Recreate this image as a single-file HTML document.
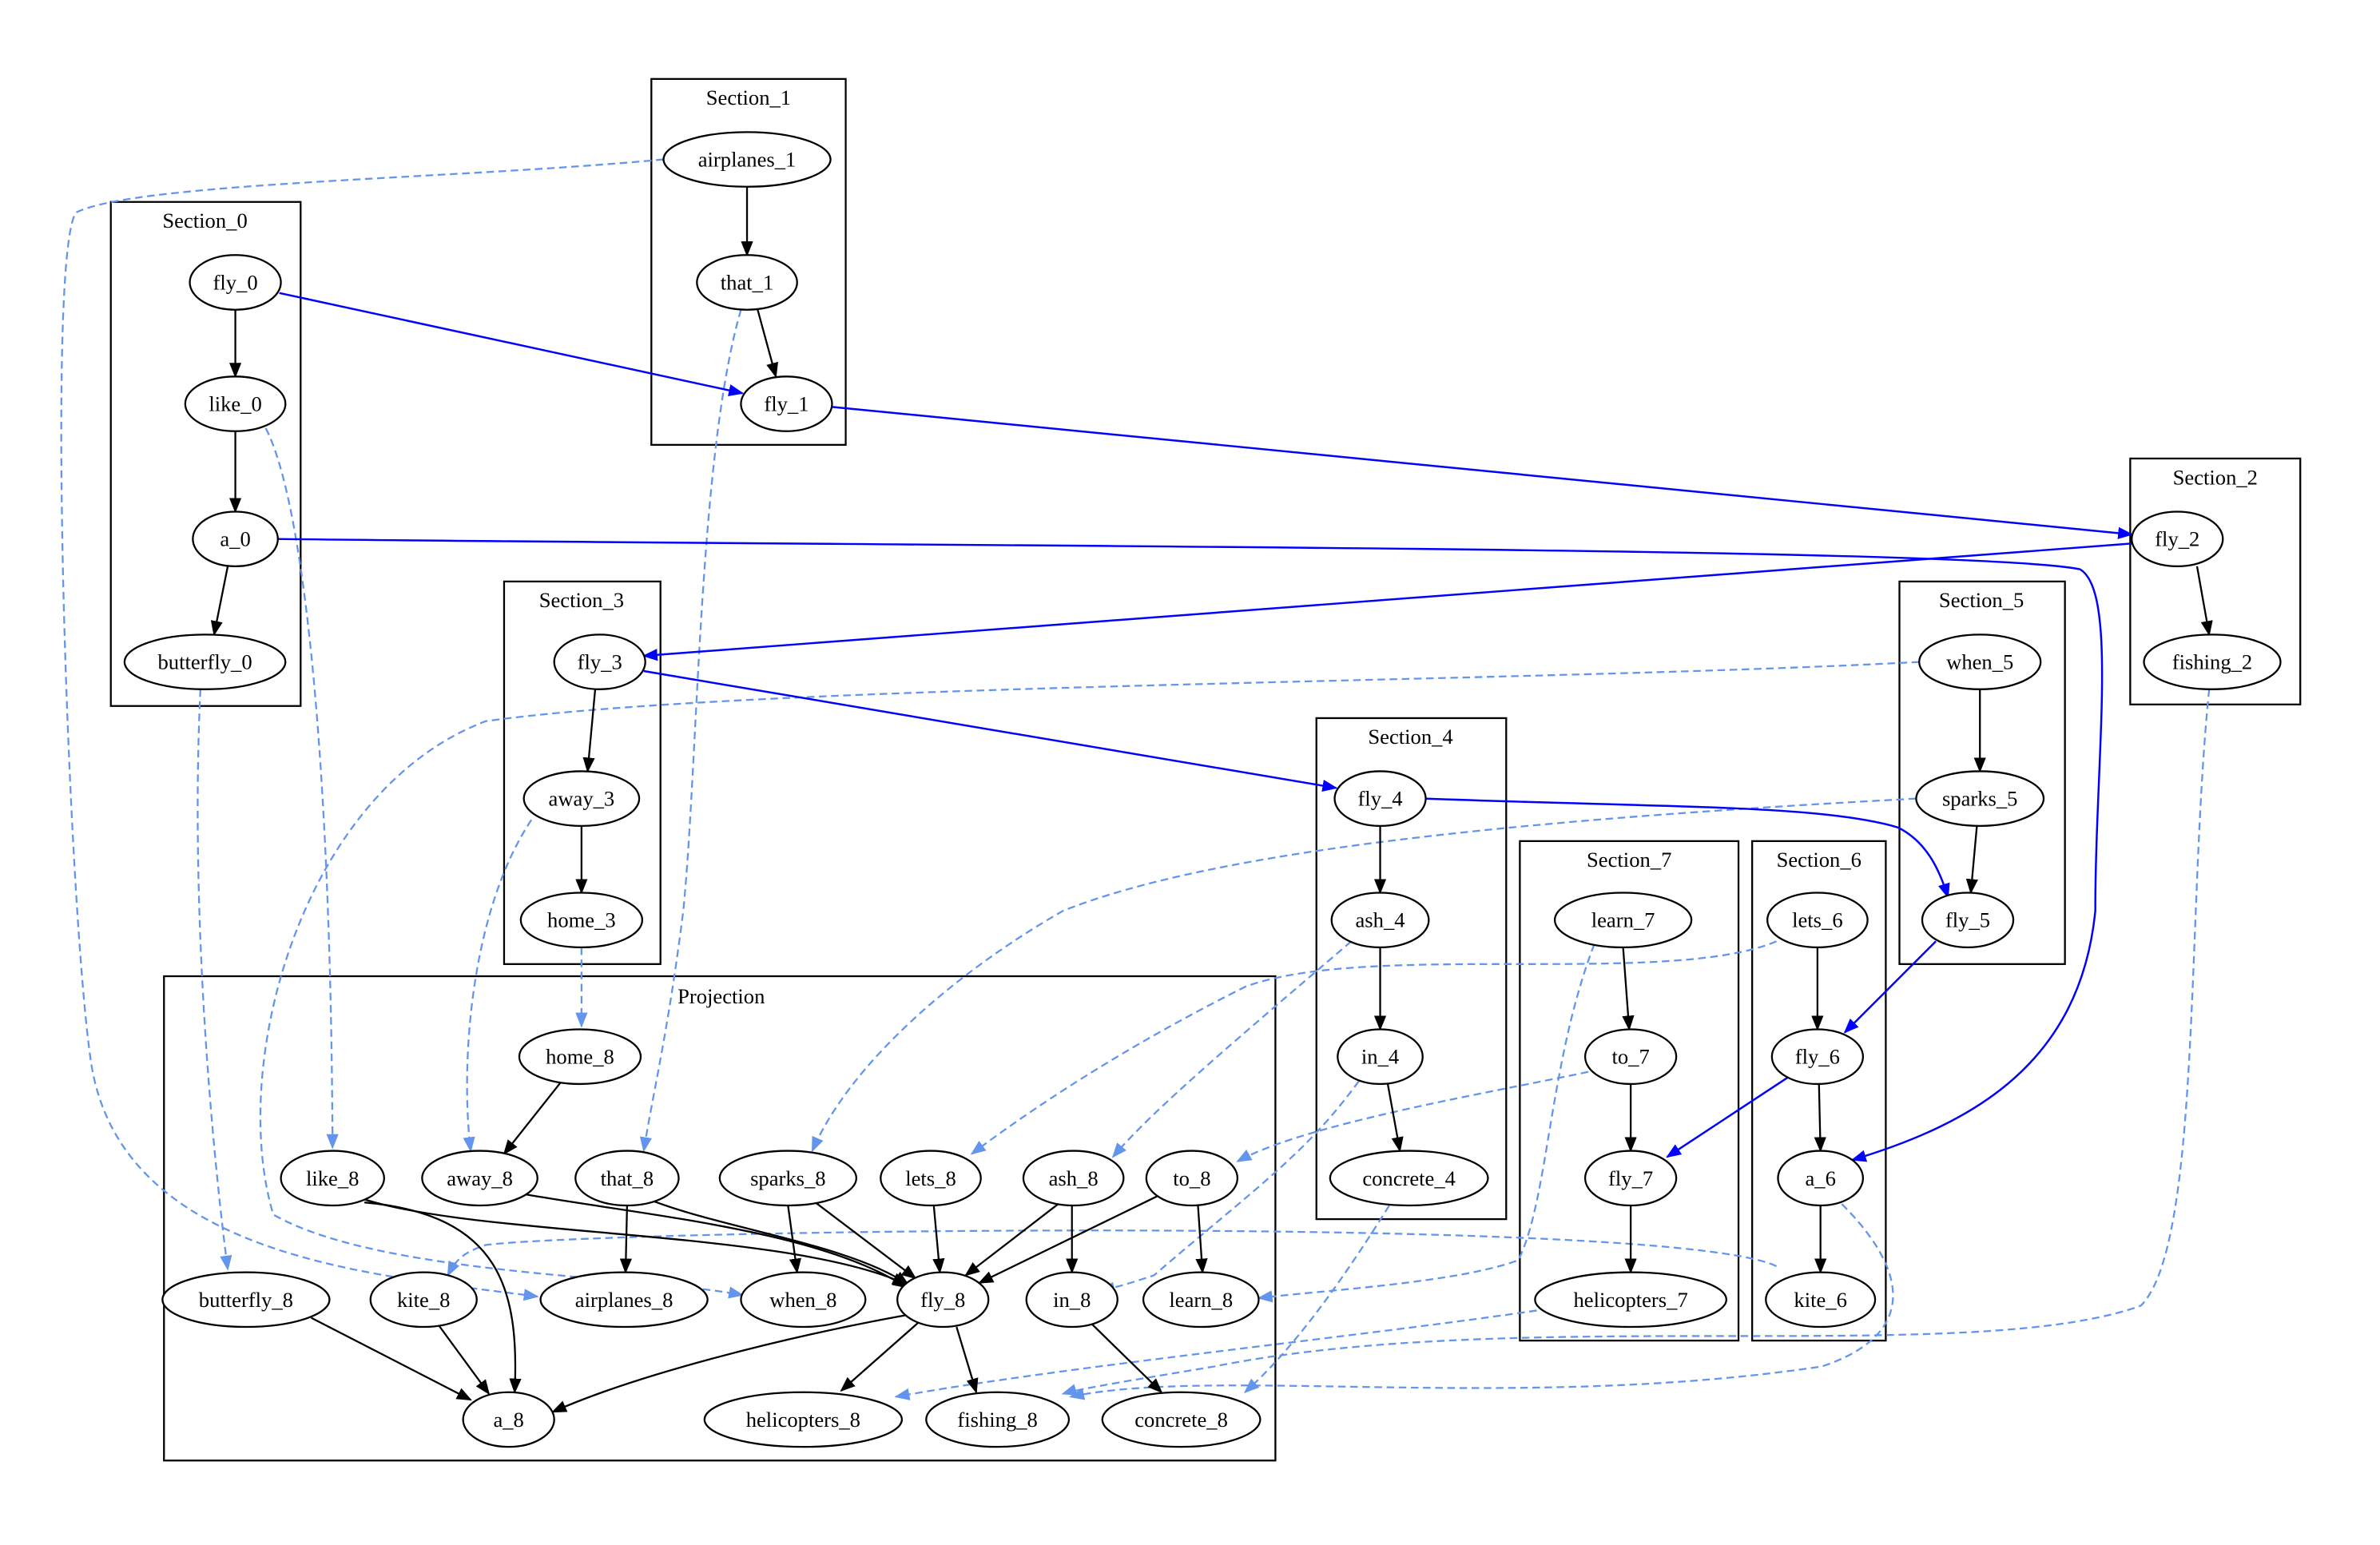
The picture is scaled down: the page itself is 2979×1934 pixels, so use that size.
<!DOCTYPE html>
<html><head><meta charset="utf-8"><style>html,body{margin:0;padding:0;background:#fff}</style></head><body>
<svg width="2979" height="1929" viewBox="0 0 1567.5 1015" xmlns="http://www.w3.org/2000/svg" font-family="Liberation Serif, serif" font-size="14">
<defs>
<marker id="k" markerWidth="10" markerHeight="8" refX="9" refY="4" orient="auto" markerUnits="userSpaceOnUse"><path d="M0,0L10,4L0,8z" fill="#000"/></marker>
<marker id="b" markerWidth="10" markerHeight="8" refX="9" refY="4" orient="auto" markerUnits="userSpaceOnUse"><path d="M0,0L10,4L0,8z" fill="#00f"/></marker>
<marker id="c" markerWidth="10" markerHeight="8" refX="9" refY="4" orient="auto" markerUnits="userSpaceOnUse"><path d="M0,0L10,4L0,8z" fill="#6495ed"/></marker>
</defs>
<rect width="1568" height="1015" fill="#fff"/>
<g fill="none" stroke="#000" stroke-width="1.2">
<rect x="73" y="133" width="125" height="332"/>
<rect x="429" y="52" width="128" height="241"/>
<rect x="1403" y="302" width="112" height="162"/>
<rect x="332" y="383" width="103" height="252"/>
<rect x="867" y="473" width="125" height="330"/>
<rect x="1251" y="383" width="109" height="252"/>
<rect x="1154" y="554" width="88" height="329"/>
<rect x="1001" y="554" width="144" height="329"/>
<rect x="108" y="643" width="732" height="319"/>
</g>
<g text-anchor="middle">
<text x="135" y="150">Section_0</text><text x="493" y="69">Section_1</text><text x="1459" y="319">Section_2</text>
<text x="383" y="400">Section_3</text><text x="929" y="490">Section_4</text><text x="1305" y="400">Section_5</text>
<text x="1198" y="571">Section_6</text><text x="1073" y="571">Section_7</text><text x="475" y="661">Projection</text>
</g>
<g fill="none" stroke="#6495ed" stroke-width="1.2" stroke-dasharray="5,3" marker-end="url(#c)">
<path d="M437,105 C300,118 90,120 50,140 C30,170 45,600 60,700 C80,830 250,840 354,854"/>
<path d="M175,282 C200,330 218,500 219,756"/>
<path d="M132,454 C125,600 140,760 150,836"/>
<path d="M488,204 C460,300 460,500 450,600 C440,680 430,720 424,758"/>
<path d="M350,540 C310,600 303,700 310,758"/>
<path d="M383,624 L383,676"/>
<path d="M1264,436 C1000,450 500,450 320,475 C200,520 150,700 180,800 C250,840 420,840 489,853"/>
<path d="M1262,526 C1000,540 800,560 700,600 C630,640 560,700 535,758"/>
<path d="M890,620 C820,680 760,730 733,762"/>
<path d="M1170,620 C1100,650 900,620 820,650 C740,690 680,730 640,760"/>
<path d="M1046,706 C980,720 860,740 815,765"/>
<path d="M895,712 C860,760 830,780 760,840 C745,845 735,848 725,850"/>
<path d="M1050,622 C1020,700 1020,790 1000,830 C960,845 870,850 829,855"/>
<path d="M1170,834 C1100,800 400,810 320,820 C305,825 300,830 295,840"/>
<path d="M1213,793 C1260,840 1260,880 1200,900 C1000,930 800,900 705,920"/>
<path d="M1455,454 C1440,600 1450,820 1410,860 C1300,900 1000,860 800,900 C740,910 710,915 700,918"/>
<path d="M1020,862 C900,880 700,900 590,920"/>
<path d="M915,794 C880,850 850,890 820,917"/>
</g>
<g fill="none" stroke="#00f" stroke-width="1.3" marker-end="url(#b)">
<path d="M184,193 L489,259"/>
<path d="M548,268 L1404,352"/>
<path d="M1404,358 L424,432"/>
<path d="M424,442 L880,519"/>
<path d="M938,526 C1100,532 1200,530 1250,545 C1270,555 1278,575 1283,591"/>
<path d="M1275,620 L1215,680"/>
<path d="M1180,708 L1098,762"/>
<path d="M183,355 C600,360 1300,360 1370,375 C1395,390 1380,500 1380,600 C1370,700 1300,740 1220,764"/>
</g>
<g fill="none" stroke="#000" stroke-width="1.2" marker-end="url(#k)">
<path d="M155,204 L155,248"/><path d="M155,284 L155,337"/><path d="M150,373 L141,418"/>
<path d="M492,123 L492,168"/><path d="M499,204 L511,248"/>
<path d="M1447,373 L1455,418"/>
<path d="M392,454 L387,508"/><path d="M383,544 L383,588"/>
<path d="M909,544 L909,588"/><path d="M909,624 L909,678"/><path d="M914,714 L922,758"/>
<path d="M1304,454 L1304,508"/><path d="M1302,544 L1298,588"/>
<path d="M1197,624 L1197,678"/><path d="M1198,714 L1199,758"/><path d="M1199,794 L1199,838"/>
<path d="M1069,624 L1073,678"/><path d="M1074,714 L1074,758"/><path d="M1074,794 L1074,838"/>
<path d="M370,712 L332,760"/>
<path d="M240,790 C320,815 520,810 597,846"/>
<path d="M240,792 C330,800 342,850 339,917"/>
<path d="M342,786 C420,800 540,810 597,848"/>
<path d="M430,791 C480,810 560,820 598,846"/>
<path d="M413,794 L412,838"/>
<path d="M537,792 L603,842"/><path d="M519,794 L525,838"/>
<path d="M615,794 L619,838"/>
<path d="M697,793 L636,840"/><path d="M706,794 L706,838"/>
<path d="M762,788 L645,845"/><path d="M789,794 L792,838"/>
<path d="M205,868 L310,922"/><path d="M289,873 L322,918"/>
<path d="M598,866 C520,880 420,905 364,930"/>
<path d="M605,871 L554,916"/><path d="M630,874 L643,917"/>
<path d="M719,872 L765,917"/>
</g>
<g fill="#fff" stroke="#000" stroke-width="1.2">
<ellipse cx="155" cy="186" rx="30" ry="18"/><ellipse cx="155" cy="266" rx="33" ry="18"/><ellipse cx="155" cy="355" rx="28" ry="18"/><ellipse cx="135" cy="436" rx="53" ry="18"/>
<ellipse cx="492" cy="105" rx="55" ry="18"/><ellipse cx="492" cy="186" rx="33" ry="18"/><ellipse cx="518" cy="266" rx="30" ry="18"/>
<ellipse cx="1434" cy="355" rx="30" ry="18"/><ellipse cx="1457" cy="436" rx="45" ry="18"/>
<ellipse cx="395" cy="436" rx="30" ry="18"/><ellipse cx="383" cy="526" rx="38" ry="18"/><ellipse cx="383" cy="606" rx="40" ry="18"/>
<ellipse cx="909" cy="526" rx="30" ry="18"/><ellipse cx="909" cy="606" rx="32" ry="18"/><ellipse cx="909" cy="696" rx="28" ry="18"/><ellipse cx="928" cy="776" rx="52" ry="18"/>
<ellipse cx="1304" cy="436" rx="40" ry="18"/><ellipse cx="1304" cy="526" rx="42" ry="18"/><ellipse cx="1296" cy="606" rx="30" ry="18"/>
<ellipse cx="1197" cy="606" rx="33" ry="18"/><ellipse cx="1197" cy="696" rx="30" ry="18"/><ellipse cx="1199" cy="776" rx="28" ry="18"/><ellipse cx="1199" cy="856" rx="36" ry="18"/>
<ellipse cx="1069" cy="606" rx="45" ry="18"/><ellipse cx="1074" cy="696" rx="30" ry="18"/><ellipse cx="1074" cy="776" rx="30" ry="18"/><ellipse cx="1074" cy="856" rx="63" ry="18"/>
<ellipse cx="382" cy="696" rx="40" ry="18"/><ellipse cx="219" cy="776" rx="34" ry="18"/><ellipse cx="316" cy="776" rx="38" ry="18"/><ellipse cx="413" cy="776" rx="34" ry="18"/>
<ellipse cx="519" cy="776" rx="45" ry="18"/><ellipse cx="613" cy="776" rx="33" ry="18"/><ellipse cx="707" cy="776" rx="33" ry="18"/><ellipse cx="785" cy="776" rx="30" ry="18"/>
<ellipse cx="162" cy="856" rx="55" ry="18"/><ellipse cx="279" cy="856" rx="35" ry="18"/><ellipse cx="411" cy="856" rx="55" ry="18"/><ellipse cx="529" cy="856" rx="41" ry="18"/>
<ellipse cx="621" cy="856" rx="30" ry="18"/><ellipse cx="706" cy="856" rx="30" ry="18"/><ellipse cx="791" cy="856" rx="38" ry="18"/>
<ellipse cx="335" cy="935" rx="30" ry="18"/><ellipse cx="529" cy="935" rx="65" ry="18"/><ellipse cx="657" cy="935" rx="47" ry="18"/><ellipse cx="778" cy="935" rx="52" ry="18"/>
</g>
<g text-anchor="middle" dominant-baseline="central">
<text x="155" y="186">fly_0</text><text x="155" y="266">like_0</text><text x="155" y="355">a_0</text><text x="135" y="436">butterfly_0</text>
<text x="492" y="105">airplanes_1</text><text x="492" y="186">that_1</text><text x="518" y="266">fly_1</text>
<text x="1434" y="355">fly_2</text><text x="1457" y="436">fishing_2</text>
<text x="395" y="436">fly_3</text><text x="383" y="526">away_3</text><text x="383" y="606">home_3</text>
<text x="909" y="526">fly_4</text><text x="909" y="606">ash_4</text><text x="909" y="696">in_4</text><text x="928" y="776">concrete_4</text>
<text x="1304" y="436">when_5</text><text x="1304" y="526">sparks_5</text><text x="1296" y="606">fly_5</text>
<text x="1197" y="606">lets_6</text><text x="1197" y="696">fly_6</text><text x="1199" y="776">a_6</text><text x="1199" y="856">kite_6</text>
<text x="1069" y="606">learn_7</text><text x="1074" y="696">to_7</text><text x="1074" y="776">fly_7</text><text x="1074" y="856">helicopters_7</text>
<text x="382" y="696">home_8</text><text x="219" y="776">like_8</text><text x="316" y="776">away_8</text><text x="413" y="776">that_8</text>
<text x="519" y="776">sparks_8</text><text x="613" y="776">lets_8</text><text x="707" y="776">ash_8</text><text x="785" y="776">to_8</text>
<text x="162" y="856">butterfly_8</text><text x="279" y="856">kite_8</text><text x="411" y="856">airplanes_8</text><text x="529" y="856">when_8</text>
<text x="621" y="856">fly_8</text><text x="706" y="856">in_8</text><text x="791" y="856">learn_8</text>
<text x="335" y="935">a_8</text><text x="529" y="935">helicopters_8</text><text x="657" y="935">fishing_8</text><text x="778" y="935">concrete_8</text>
</g>
</svg>
</body></html>
